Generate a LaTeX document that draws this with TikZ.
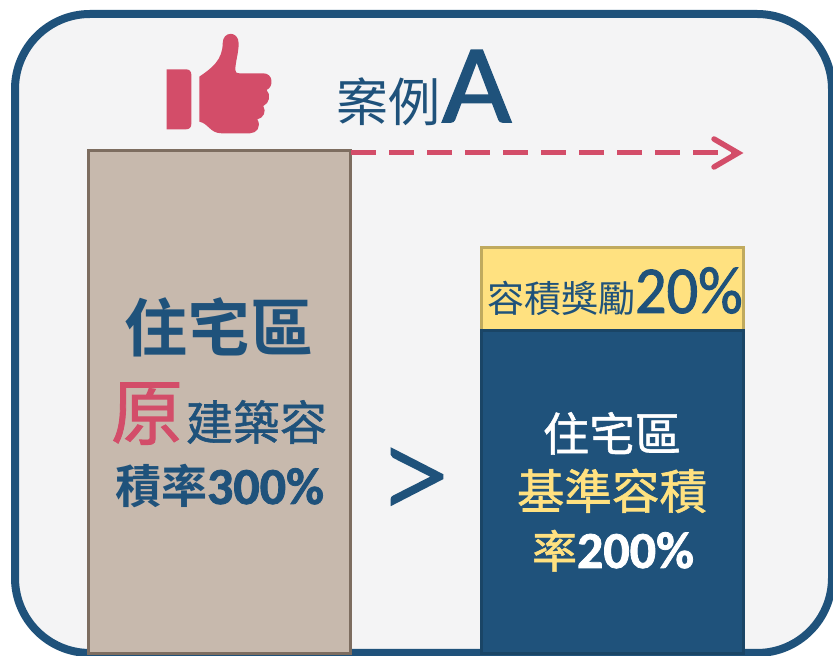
\documentclass[tikz,border=0pt]{standalone}
\usepackage{fontspec}
\usetikzlibrary{arrows.meta}
\setmainfont{Carlito}
\newfontfamily\cjk{Noto Sans CJK TC}
\newfontfamily\cjkb{Noto Sans CJK TC}[FakeBold=1.2]
\newfontfamily\cjkh{Noto Sans CJK TC Bold}
\newfontfamily\lat{Carlito}
\newfontfamily\latb{Carlito Bold}[FakeBold=1.5]
\newfontfamily\latm{Carlito}[FakeBold=1.5]
\newfontfamily\latl{Lato Light}[FakeBold=2.5]
\newcommand{\fs}[1]{\fontsize{#1}{#1}\selectfont}
\definecolor{navy}{HTML}{1F527B}
\definecolor{rosec}{HTML}{D34D69}
\definecolor{tan}{HTML}{C7B9AD}
\definecolor{tanline}{HTML}{7D6D60}
\definecolor{yel}{HTML}{FFE180}
\definecolor{yelline}{HTML}{C0AA5E}
\definecolor{navyline}{HTML}{1A4566}
\definecolor{panel}{HTML}{F4F4F5}
\tikzset{
  x=1pt,y=1pt,
  txt/.style={anchor=base,inner sep=0pt,outer sep=0pt},
  barbox/.style={inner sep=0pt,outer sep=0pt,anchor=north west,line width=3pt},
}
\begin{document}
\begin{tikzpicture}
\useasboundingbox (0,0) rectangle (833,656);
\fill[white] (0,0) rectangle (833,656);
\draw[navy,line width=8pt,fill=panel,rounded corners=75pt] (15,3) rectangle (832,642);
% thumb
\begin{scope}[shift={(150,636)},x=0.3333pt,y=-0.3333pt]
\fill[rosec] (50,148) -- (108,148) .. controls (118,148) and (124,154) .. (124,164) -- (124,312) .. controls (124,322) and (118,328) .. (108,328) -- (50,328) -- cycle;
\fill[rosec,sharp corners] (148,170) .. controls (185,145) and (218,120) .. (218,70)
  .. controls (218,32) and (266,32) .. (266,70)
  .. controls (266,100) and (256,125) .. (256,150)
  .. controls (256,158) and (260,160) .. (268,160)
  -- (340,160) .. controls (370,160) and (372,200) .. (350,210)
  .. controls (364,225) and (358,250) .. (340,258)
  .. controls (350,275) and (340,295) .. (322,298)
  .. controls (335,320) and (320,340) .. (300,340)
  -- (215,340) .. controls (180,340) and (175,310) .. (148,305) -- cycle;
\end{scope}
% bars
\node[barbox,draw=tanline,fill=tan,minimum width=262pt,minimum height=503pt] (orig) at (88,505.5) {};
\node[barbox,draw=yelline,fill=yel,minimum width=262pt,minimum height=83pt] (bonus) at (481,408.5) {};
\node[barbox,draw=navyline,fill=navy,minimum width=262pt,minimum height=323pt] (base) at (481,325.5) {};
% arrow
\coordinate (arrowstart) at (351,503);
\coordinate (arrowend) at (738,503);
\draw[rosec,line width=5pt,dash pattern=on 25pt off 13pt] (arrowstart) -- ([xshift=-6pt]arrowend);
\draw[rosec,line width=5.5pt,line cap=round,line join=miter] (714,517) -- (arrowend) -- (714,489);
% title
\node[txt,text=navy,anchor=base west] (title) at (336,534) {\cjk\fs{52}案例\kern2pt\latm\fs{112}\scalebox{1.07}[1]{A}};
% left text
\node[txt,text=navy] (l1) at (219,304) {\cjkh\fs{63}住宅區};
\node[txt,anchor=base west] (l2b) at (186,216) {\cjkb\fs{47}\textcolor{navy}{建築容}};
\node[txt,anchor=base west] (l2a) at (111,217) {\cjkb\fs{72}\textcolor{rosec}{原}};
\node[txt,text=navy,anchor=base west] (l3) at (115,152) {\cjkh\fs{46}積率\latb\fs{52}300\%};
% greater
\node[txt,text=navy] (gt) at (415,135) {\latl\fs{132}>};
% right text
\node[txt,text=white] (r1) at (612,205) {\cjkb\fs{46}住宅區};
\node[txt,text=yel] (r2) at (612,147) {\cjkb\fs{47.5}基準容積};
\node[txt,anchor=base west] (r3) at (532,88) {\cjkb\fs{45}\textcolor{yel}{率}\latb\fs{52}\textcolor{white}{200\%}};
\node[txt,anchor=base west,text=navy] (b1) at (487,343) {\cjk\fs{37}容積獎勵\latm\fs{67}\scalebox{.93}[1]{20\%}};
\end{tikzpicture}
\end{document}
